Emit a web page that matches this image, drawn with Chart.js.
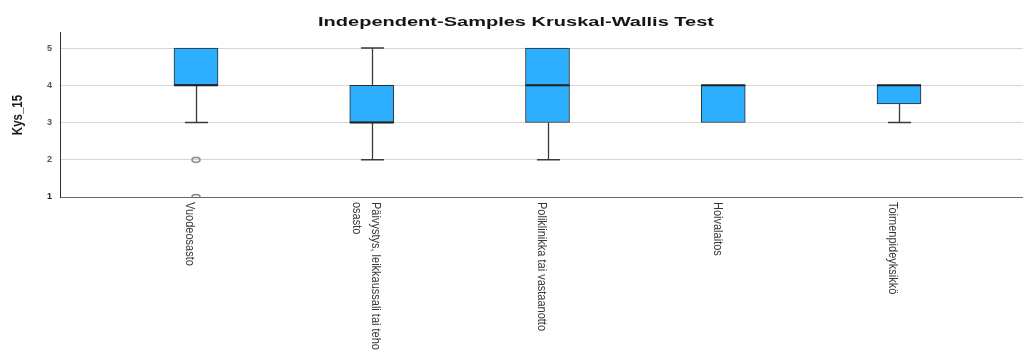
<!DOCTYPE html>
<html>
<head>
<meta charset="utf-8">
<script src="https://cdn.jsdelivr.net/npm/chart.js@4/dist/chart.umd.min.js"></script>
<style>
  html, body { margin: 0; padding: 0; background: #fff; }
  #wrap { width: 1023px; height: 351px; }
</style>
</head>
<body>
<div id="wrap"><canvas id="c" width="1023" height="351"></canvas></div>
<script>
// Groups (x categories); a nested array is a label split over two lines
const groups = [
  'Vuodeosasto',
  ['Päivystys, leikkaussali tai teho', 'osasto'],
  'Poliklinikka tai vastaanotto',
  'Hoivalaitos',
  'Toimenpideyksikkö'
];
// Box-plot summary of Kys_15 per group
const lowWhisker  = [3, 2, 2, 3, 3];
const q1          = [4, 3, 3, 3, 3.5];
const median      = [4, 3, 4, 4, 4];
const q3          = [5, 4, 5, 4, 4];
const highWhisker = [5, 5, 5, 4, 4];
const outliers    = [[2, 1], [], [], [], []];
const yTicks      = [1, 2, 3, 4, 5];

const titleText = 'Independent-Samples Kruskal-Wallis Test';
const yTitle = 'Kys_15';

const BOX_FILL = '#2eaefe';
const INK = '#2b2b2b';

// small open ellipse used as the outlier marker
function outlierMarker() {
  const c = document.createElement('canvas');
  c.width = 12; c.height = 8;
  const g = c.getContext('2d');
  g.strokeStyle = '#858585';
  g.lineWidth = 1.5;
  g.beginPath();
  g.ellipse(6, 4, 4, 2.4, 0, 0, Math.PI * 2);
  g.stroke();
  return c;
}

const boxData = groups.map((_, i) => ({ x: i + 1, y: [q1[i], q3[i]] }));
const outlierData = [];
outliers.forEach((vals, i) => vals.forEach(v => outlierData.push({ x: i + 1, y: v })));

// whiskers, caps and median lines
const whiskerPlugin = {
  id: 'whiskers',
  afterDatasetsDraw(chart) {
    const { ctx, scales: { x, y } } = chart;
    const boxMeta = chart.getDatasetMeta(0);
    ctx.save();
    groups.forEach((_, i) => {
      const px = Math.round(x.getPixelForValue(i + 1)) + 0.5;
      const capHalf = 11.5;
      ctx.strokeStyle = '#3a3a3a';
      ctx.lineWidth = 1.3;
      const segs = [[q3[i], highWhisker[i]], [q1[i], lowWhisker[i]]];
      segs.forEach(([from, to]) => {
        if (from === to) return;
        const y0 = y.getPixelForValue(from), y1 = y.getPixelForValue(to);
        ctx.beginPath();
        ctx.moveTo(px, y0); ctx.lineTo(px, y1);
        ctx.moveTo(px - capHalf, y1); ctx.lineTo(px + capHalf, y1);
        ctx.stroke();
      });
      const bar = boxMeta.data[i];
      const half = bar.width / 2;
      const my = y.getPixelForValue(median[i]);
      ctx.strokeStyle = '#1e1e1e';
      ctx.lineWidth = 2;
      ctx.beginPath();
      ctx.moveTo(bar.x - half, my); ctx.lineTo(bar.x + half, my);
      ctx.stroke();
    });
    ctx.restore();
  }
};

// title, rotated axis title and rotated category labels
const textPlugin = {
  id: 'texts',
  afterDraw(chart) {
    const { ctx, scales: { x, y } } = chart;
    ctx.save();
    // chart title (wide bold)
    ctx.fillStyle = '#151515';
    ctx.font = 'bold 12px "Liberation Sans", Arial, sans-serif';
    const tw = ctx.measureText(titleText).width;
    const sx = 396 / tw;
    ctx.save();
    ctx.translate(516, 22.5);
    ctx.scale(sx, 1);
    ctx.textAlign = 'center';
    ctx.textBaseline = 'middle';
    ctx.fillText(titleText, 0, 0);
    ctx.restore();

    // y axis title
    ctx.save();
    ctx.fillStyle = '#1a1a1a';
    ctx.font = 'bold 11.5px "Liberation Sans", Arial, sans-serif';
    ctx.translate(17.5, (y.top + y.bottom) / 2 + 0.5);
    ctx.scale(1.3, 1);
    ctx.rotate(-Math.PI / 2);
    ctx.textAlign = 'center';
    ctx.textBaseline = 'middle';
    ctx.fillText(yTitle, 0, 0);
    ctx.restore();

    // category labels, reading downwards
    const S = 1.2;
    const lineH = 16;
    ctx.fillStyle = '#383838';
    ctx.font = '11px "Liberation Sans", Arial, sans-serif';
    groups.forEach((g, i) => {
      const lines = Array.isArray(g) ? g : [g];
      const px = x.getPixelForValue(i + 1) - 6;
      ctx.save();
      ctx.translate(px, y.bottom + 5);
      ctx.scale(S, 1);
      ctx.rotate(Math.PI / 2);
      ctx.textAlign = 'left';
      ctx.textBaseline = 'middle';
      lines.forEach((ln, k) => {
        const off = (k - (lines.length - 1) / 2) * lineH;
        ctx.fillText(ln, 0, off);
      });
      ctx.restore();
    });
    ctx.restore();
  }
};

new Chart(document.getElementById('c'), {
  type: 'bar',
  data: {
    datasets: [
      {
        label: 'Kys_15',
        data: boxData,
        backgroundColor: BOX_FILL,
        borderColor: INK,
        borderWidth: 1,
        borderSkipped: false,
        barThickness: 44,
        order: 2
      },
      {
        type: 'scatter',
        label: 'outliers',
        data: outlierData,
        pointStyle: outlierMarker(),
        clip: { left: false, top: false, right: false, bottom: 0 },
        order: 1
      }
    ]
  },
  options: {
    responsive: false,
    animation: false,
    devicePixelRatio: 1,
    layout: { autoPadding: false, padding: { top: 32, left: 0, right: 0, bottom: 0 } },
    plugins: {
      legend: { display: false },
      tooltip: { enabled: false },
      title: { display: false }
    },
    scales: {
      x: {
        type: 'linear',
        offset: false,
        min: 0.2262,
        max: 5.7055,
        grid: { display: false },
        border: { display: true, color: '#6a6a6a', width: 1 },
        ticks: { display: false },
        afterFit(scale) { scale.height = 154; }
      },
      y: {
        min: 1,
        max: 5.43,
        afterBuildTicks(scale) { scale.ticks = yTicks.map(v => ({ value: v })); },
        grid: { color: '#d6d6d6', lineWidth: 1, drawTicks: false },
        border: { display: true, color: '#333', width: 1 },
        ticks: {
          padding: 8,
          font: { family: '"Liberation Sans", Arial, sans-serif', size: 9, weight: 'bold' },
          color: ctx => ctx.tick && ctx.tick.value === 1 ? '#222' : '#555'
        },
        afterFit(scale) { scale.width = 60; }
      }
    }
  },
  plugins: [whiskerPlugin, textPlugin]
});
</script>
</body>
</html>
